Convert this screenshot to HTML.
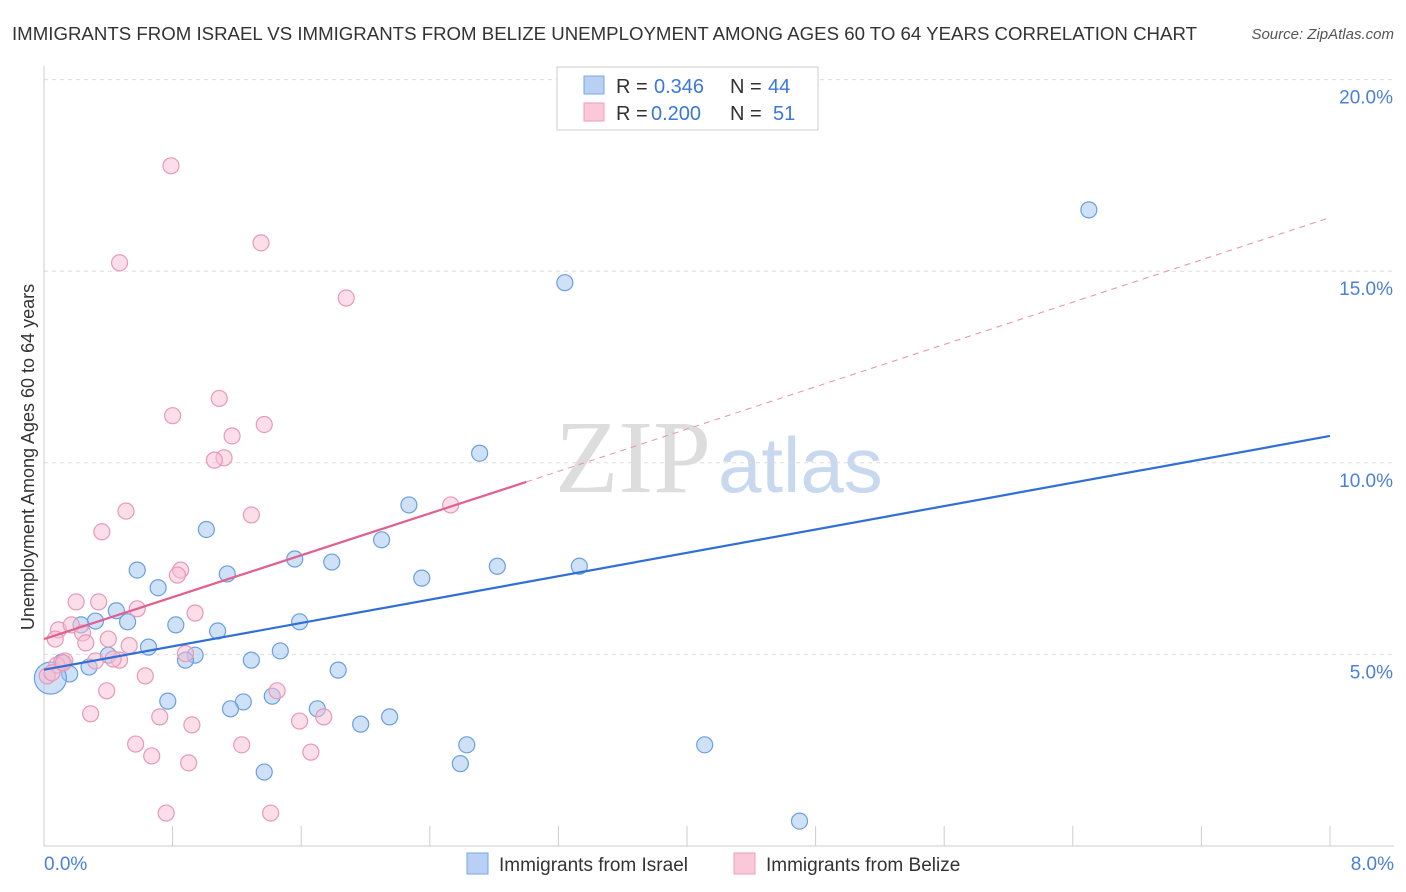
<!DOCTYPE html>
<html><head><meta charset="utf-8"><style>
body{margin:0;background:#fff;font-family:"Liberation Sans",sans-serif}
svg{display:block}
</style></head><body>
<svg id="chart" width="1406" height="892" xmlns="http://www.w3.org/2000/svg">
<text x="12" y="40" font-size="18" fill="#333" textLength="1185" lengthAdjust="spacingAndGlyphs">IMMIGRANTS FROM ISRAEL VS IMMIGRANTS FROM BELIZE UNEMPLOYMENT AMONG AGES 60 TO 64 YEARS CORRELATION CHART</text>
<text x="1394" y="39" font-size="15" fill="#555" font-style="italic" text-anchor="end">Source: ZipAtlas.com</text>
<text x="555" y="492" font-size="104" fill="#ddd" font-family="Liberation Serif">ZIP</text>
<text x="718" y="492" font-size="78" fill="#c8d8ee">atlas</text>
<g id="grid"></g><g id="axes"></g><g id="lines"></g><g id="pts"></g>
<text transform="translate(34,457) rotate(-90)" font-size="18" fill="#333" text-anchor="middle">Unemployment Among Ages 60 to 64 years</text>
<g>
<rect x="557" y="67" width="261" height="63" fill="#fff" stroke="#ccc"/>
<rect x="584" y="76" width="20" height="18" fill="#b8d0f4" stroke="#7aa6e6"/>
<rect x="584" y="103" width="20" height="18" fill="#fac8d8" stroke="#eca0bc"/>
<text x="616" y="93" font-size="20" fill="#333">R =</text>
<text x="654" y="93" font-size="20" fill="#3a78d8">0.346</text>
<text x="730" y="93" font-size="20" fill="#333">N =</text>
<text x="768" y="93" font-size="20" fill="#3a78d8">44</text>
<text x="616" y="120" font-size="20" fill="#333">R =</text>
<text x="651" y="120" font-size="20" fill="#3a78d8">0.200</text>
<text x="730" y="120" font-size="20" fill="#333">N =</text>
<text x="773" y="120" font-size="20" fill="#3a78d8">51</text>
</g>
<g>
<rect x="467" y="853" width="21" height="21" fill="#b8d0f4" stroke="#7aa6e6"/>
<text x="499" y="871" font-size="19" fill="#333">Immigrants from Israel</text>
<rect x="734" y="853" width="21" height="21" fill="#fac8d8" stroke="#eca0bc"/>
<text x="766" y="871" font-size="19" fill="#333">Immigrants from Belize</text>
</g>
</svg>
<script>
const yTicks=[5,10,15,20];
const yTickLabels=["5.0%","10.0%","15.0%","20.0%"];
const xTicks=[0,0.8,1.6,2.4,3.2,4,4.8,5.6,6.4,7.2,8];
const israelX=[6.5,3.24,2.71,1.01,2.27,2.1,1.56,1.79,2.82,3.33,2.35,0.58,1.14,0.71,0.45,0.32,0.52,0.23,0.82,1.59,1.08,0.65,0.94,1.47,0.40,0.88,1.29,0.11,0.28,0.16,0.04,1.83,0.77,1.24,1.42,1.16,1.70,2.15,1.97,2.63,2.59,4.11,1.37,4.7];
const israelY=[16.6,14.7,10.25,8.26,8.9,7.99,7.49,7.41,7.3,7.3,6.99,7.2,7.1,6.74,6.14,5.87,5.85,5.77,5.77,5.85,5.61,5.19,4.98,5.09,4.98,4.85,4.85,4.8,4.67,4.49,4.38,4.59,3.78,3.76,3.91,3.58,3.58,3.37,3.18,2.64,2.15,2.64,1.93,0.65];
const belizeX=[0.79,1.35,0.47,1.88,1.09,0.80,1.37,1.17,1.12,1.06,1.29,0.51,2.53,0.36,0.85,0.83,0.2,0.34,0.58,0.94,0.09,0.17,0.24,0.40,0.07,0.26,0.53,0.88,0.47,0.32,0.13,0.08,0.63,0.02,1.45,0.39,0.29,0.72,0.92,1.74,1.59,0.57,1.23,0.67,1.66,0.90,0.76,1.41,0.05,0.12,0.43];
const belizeY=[17.75,15.74,15.22,14.3,11.68,11.23,11.0,10.7,10.13,10.07,8.64,8.74,8.9,8.2,7.2,7.07,6.37,6.37,6.19,6.08,5.64,5.77,5.56,5.4,5.4,5.3,5.23,5.02,4.85,4.83,4.83,4.72,4.44,4.44,4.05,4.05,3.45,3.37,3.16,3.37,3.26,2.66,2.64,2.35,2.45,2.17,0.86,0.86,4.52,4.78,4.88];
const israelLine=[4.6,10.7];
const belizeLine=[5.4,9.5,16.4];
const X=v=>44+v/8*1286, Y=v=>846-v/5*191.6;
const NS="http://www.w3.org/2000/svg";
function mk(p,t,a){const e=document.createElementNS(NS,t);for(const k in a)e.setAttribute(k,a[k]);document.getElementById(p).appendChild(e);return e;}
yTicks.forEach((t,i)=>{
 const g=mk('grid','line',{x1:44,x2:1394,y1:Y(t),y2:Y(t),stroke:'#ddd','stroke-dasharray':'4,4'});
 
 
 const l=mk('axes','text',{x:1393,y:Y(t)+24,'font-size':19,fill:'#4a80d8','text-anchor':'end'});
 l.textContent=yTickLabels[i];
 
 
});
mk('axes','line',{x1:44,x2:44,y1:66,y2:846,stroke:'#ccc'});
mk('axes','line',{x1:44,x2:1394,y1:846,y2:846,stroke:'#ccc'});
xTicks.forEach(t=>{const e=mk('axes','line',{x1:X(t),x2:X(t),y1:826,y2:846,stroke:'#ccc'});
 
 });
[[0,'0.0%',44,'start'],[8,'8.0%',1394,'end']].forEach(d=>{const e=mk('axes','text',{x:d[2],y:870,'font-size':19,fill:'#4a80d8','text-anchor':d[3]});e.textContent=d[1];
 
 });
const pd=mk('lines','line',{x1:X(3),y1:Y(belizeLine[1]),x2:X(8),y2:Y(belizeLine[2]),stroke:'#e890b0','stroke-dasharray':'6,5','stroke-width':1});


israelX.forEach((x,i)=>{const c=mk('pts','circle',{cx:X(x),cy:Y(israelY[i]),r:i==30?16:8,fill:'rgba(160,195,240,0.5)',stroke:'#6a9fe0','stroke-width':1.2});
 
 });
belizeX.forEach((x,i)=>{const c=mk('pts','circle',{cx:X(x),cy:Y(belizeY[i]),r:8,fill:'rgba(248,190,210,0.5)',stroke:'#e898b8','stroke-width':1.2});
 
 });
const il=mk('pts','line',{x1:X(0),y1:Y(israelLine[0]),x2:X(8),y2:Y(israelLine[1]),stroke:'#2f6fd6','stroke-width':2.2});


const bl=mk('pts','line',{x1:X(0),y1:Y(belizeLine[0]),x2:X(3),y2:Y(belizeLine[1]),stroke:'#e06090','stroke-width':2.2});


</script>
</body></html>
